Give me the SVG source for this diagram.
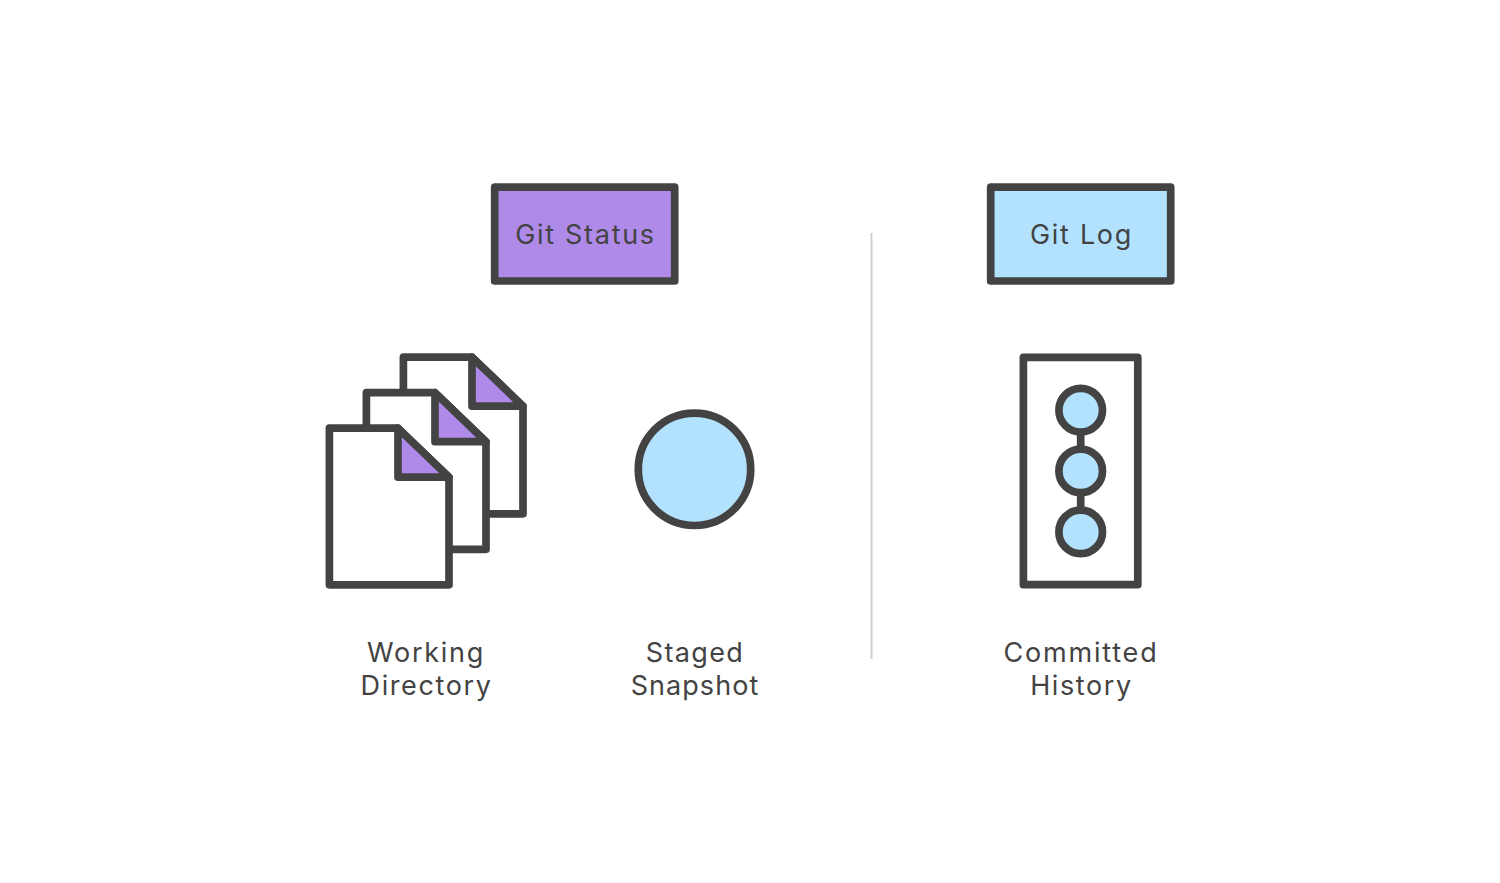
<svg xmlns="http://www.w3.org/2000/svg" width="1500" height="883" viewBox="0 0 1500 883">
<style>
.o{stroke:#434343;stroke-width:7.7;stroke-linejoin:round;stroke-linecap:round}
.t{font-family:Inter,"Liberation Sans",sans-serif;font-size:27px;letter-spacing:1.7px;fill:#434343;text-anchor:middle}
.p{fill:#b08ae8}.b{fill:#b3e2ff}.w{fill:#fff}
</style>
<defs>
<g id="doc">
<path class="o w" d="M329.4 428.2H398L449 477.2V584.8H329.4Z"/>
<path class="o p" d="M398 428.2L449 477.2H398Z"/>
</g>
</defs>
<rect width="1500" height="883" fill="#fff"/>
<g id="connectors">
<line x1="871.5" y1="233" x2="871.5" y2="659" stroke="#d0d0d0" stroke-width="2"/>
</g>
<g id="git-status">
<rect class="o p" x="494.7" y="187.2" width="180" height="93.8"/>
<text class="t" x="585.5" y="244">Git Status</text>
</g>
<g id="git-log">
<rect class="o b" x="990.7" y="187.2" width="180" height="93.8"/>
<text class="t" x="1081.5" y="244">Git Log</text>
</g>
<g id="working-directory">
<use href="#doc" x="74" y="-71"/>
<use href="#doc" x="37" y="-35.5"/>
<use href="#doc"/>
<text class="t" x="426" y="662">Working</text>
<text class="t" x="426.5" y="695" style="letter-spacing:1.6px">Directory</text>
</g>
<g id="staged-snapshot">
<circle class="o b" cx="694.5" cy="469.3" r="56.2"/>
<text class="t" x="695" y="662" style="letter-spacing:1.35px">Staged</text>
<text class="t" x="695" y="695" style="letter-spacing:1.05px">Snapshot</text>
</g>
<g id="committed-history">
<rect class="o w" x="1023.4" y="357.3" width="114.4" height="227.4"/>
<line class="o" x1="1080.7" y1="430" x2="1080.7" y2="515"/>
<circle class="o b" cx="1080.7" cy="410.2" r="21.8"/>
<circle class="o b" cx="1080.7" cy="470.9" r="21.8"/>
<circle class="o b" cx="1080.7" cy="531.9" r="21.8"/>
<text class="t" x="1081" y="662" style="letter-spacing:1.8px">Committed</text>
<text class="t" x="1081.5" y="695" style="letter-spacing:1.6px">History</text>
</g>
</svg>
